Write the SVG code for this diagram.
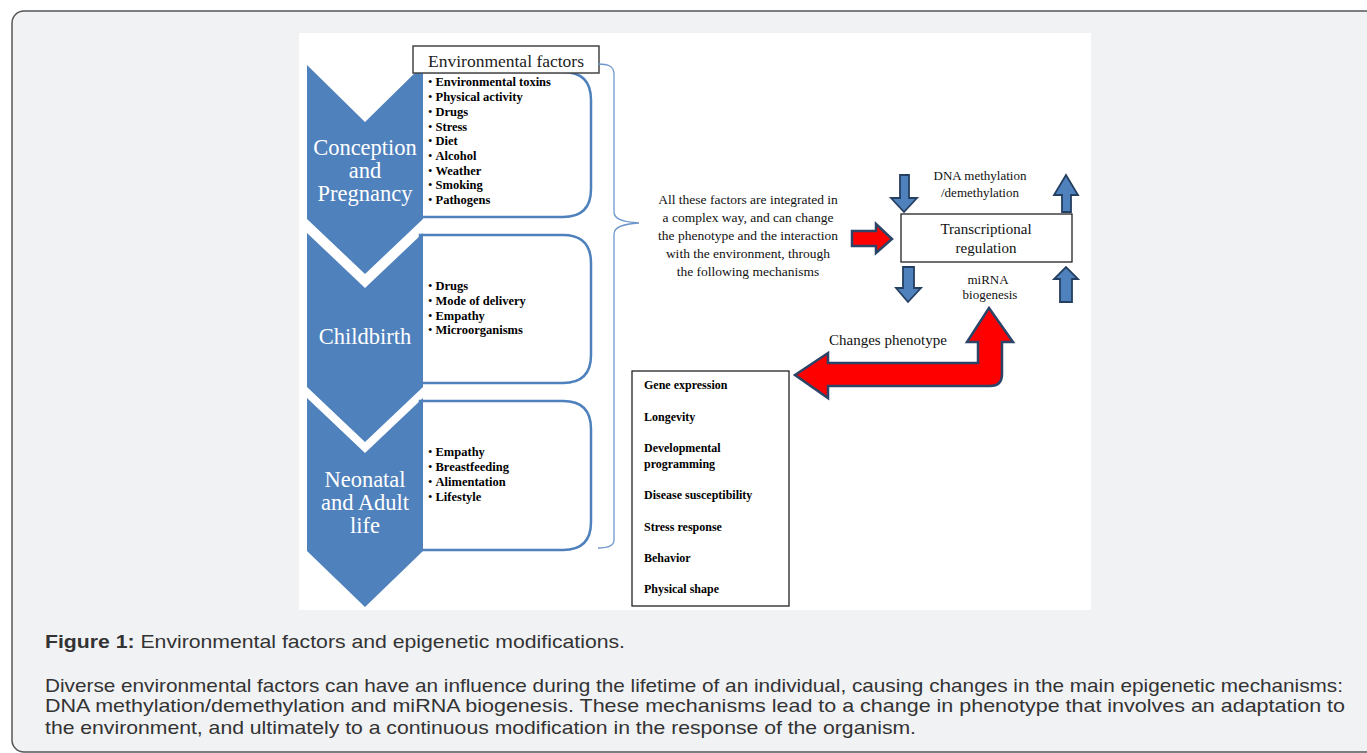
<svg xmlns="http://www.w3.org/2000/svg" width="1367" height="753" viewBox="0 0 1367 753">
<style>
.serif{font-family:"Liberation Serif","Times New Roman",serif;}
.chev{fill:#4f81bd;}
.chevtxt{font-family:"Liberation Serif","Times New Roman",serif;font-size:22.5px;fill:#ffffff;text-anchor:middle;}
.lbox{fill:#ffffff;stroke:#4f81bd;stroke-width:2.5;}
.item{font-family:"Liberation Serif","Times New Roman",serif;font-size:12.5px;font-weight:bold;fill:#000;}
.pitem{font-family:"Liberation Serif","Times New Roman",serif;font-size:12px;font-weight:bold;fill:#000;}
.mid{font-family:"Liberation Serif","Times New Roman",serif;font-size:13.5px;fill:#111;text-anchor:middle;}
.mech{font-family:"Liberation Serif","Times New Roman",serif;font-size:13px;fill:#111;text-anchor:middle;}
.barrow{fill:#4f81bd;stroke:#243f60;stroke-width:1.8;stroke-linejoin:miter;}
.rarrow{fill:#ff0000;stroke:#2b4467;stroke-width:2.5;stroke-linejoin:miter;}
.cap{font-family:"Liberation Sans",Arial,sans-serif;font-size:18.5px;fill:#333;}
</style>
<rect x="12" y="11" width="1370" height="741" rx="12" ry="12" fill="#f1f2f4" stroke="#555" stroke-width="1.5"/>
<rect x="299" y="33" width="792" height="577" fill="#ffffff"/>

<g id="box1">
<path class="lbox" d="M420,72 L563,72 Q591,72 591,100 L591,189 Q591,217 563,217 L420,217 Z"/>
<text class="item" x="428" y="86"><tspan font-weight="normal">• </tspan>Environmental toxins</text>
<text class="item" x="428" y="101"><tspan font-weight="normal">• </tspan>Physical activity</text>
<text class="item" x="428" y="116"><tspan font-weight="normal">• </tspan>Drugs</text>
<text class="item" x="428" y="131"><tspan font-weight="normal">• </tspan>Stress</text>
<text class="item" x="428" y="145"><tspan font-weight="normal">• </tspan>Diet</text>
<text class="item" x="428" y="160"><tspan font-weight="normal">• </tspan>Alcohol</text>
<text class="item" x="428" y="175"><tspan font-weight="normal">• </tspan>Weather</text>
<text class="item" x="428" y="189"><tspan font-weight="normal">• </tspan>Smoking</text>
<text class="item" x="428" y="204"><tspan font-weight="normal">• </tspan>Pathogens</text>
</g>
<g id="box2">
<path class="lbox" d="M420,235 L563,235 Q591,235 591,263 L591,355 Q591,383 563,383 L420,383 Z"/>
<text class="item" x="428" y="290"><tspan font-weight="normal">• </tspan>Drugs</text>
<text class="item" x="428" y="305"><tspan font-weight="normal">• </tspan>Mode of delivery</text>
<text class="item" x="428" y="320"><tspan font-weight="normal">• </tspan>Empathy</text>
<text class="item" x="428" y="334"><tspan font-weight="normal">• </tspan>Microorganisms</text>
</g>
<g id="box3">
<path class="lbox" d="M420,401 L563,401 Q591,401 591,429 L591,522 Q591,550 563,550 L420,550 Z"/>
<text class="item" x="428" y="456"><tspan font-weight="normal">• </tspan>Empathy</text>
<text class="item" x="428" y="471"><tspan font-weight="normal">• </tspan>Breastfeeding</text>
<text class="item" x="428" y="486"><tspan font-weight="normal">• </tspan>Alimentation</text>
<text class="item" x="428" y="501"><tspan font-weight="normal">• </tspan>Lifestyle</text>
</g>

<g id="chevron1">
<path class="chev" d="M307,65 L365,122 L423,65 L423,219 L365,274 L307,219 Z"/>
<text class="chevtxt" x="365" y="155">Conception</text>
<text class="chevtxt" x="365" y="178">and</text>
<text class="chevtxt" x="365" y="201">Pregnancy</text>
</g>
<g id="chevron2">
<path class="chev" d="M307,233 L365,288 L423,233 L423,387 L365,442 L307,387 Z"/>
<text class="chevtxt" x="365" y="344">Childbirth</text>
</g>
<g id="chevron3">
<path class="chev" d="M307,398 L365,453 L423,398 L423,551 L365,607 L307,551 Z"/>
<text class="chevtxt" x="365" y="487">Neonatal</text>
<text class="chevtxt" x="365" y="510">and Adult</text>
<text class="chevtxt" x="365" y="533">life</text>
</g>

<g id="envfactors">
<rect x="413" y="46" width="186" height="27" fill="#ffffff" stroke="#444" stroke-width="1.5"/>
<text class="serif" x="506" y="67" font-size="17.5" text-anchor="middle" fill="#222">Environmental factors</text>
</g>

<g id="integration">
<text class="mid" x="748" y="204">All these factors are integrated in</text>
<text class="mid" x="748" y="222">a complex way, and can change</text>
<text class="mid" x="748" y="240">the phenotype and the interaction</text>
<text class="mid" x="748" y="258">with the environment, through</text>
<text class="mid" x="748" y="276">the following mechanisms</text>
</g>

<g id="transcription">
<rect x="901" y="214" width="171" height="48" fill="#ffffff" stroke="#222" stroke-width="1.3"/>
<text class="serif" x="986" y="234" font-size="15" text-anchor="middle" fill="#111">Transcriptional</text>
<text class="serif" x="986" y="253" font-size="15" text-anchor="middle" fill="#111">regulation</text>
</g>
<g id="dnamethyl">
<text class="mech" x="980" y="180">DNA methylation</text>
<text class="mech" x="980" y="197">/demethylation</text>
</g>
<g id="mirna">
<text class="mech" x="988" y="284">miRNA</text>
<text class="mech" x="990" y="299">biogenesis</text>
</g>

<g id="phenotype">
<rect x="632" y="371" width="157" height="235" fill="#ffffff" stroke="#222" stroke-width="1.3"/>
<text class="pitem" x="644" y="389">Gene expression</text>
<text class="pitem" x="644" y="421">Longevity</text>
<text class="pitem" x="644" y="452">Developmental</text>
<text class="pitem" x="644" y="468">programming</text>
<text class="pitem" x="644" y="499">Disease susceptibility</text>
<text class="pitem" x="644" y="531">Stress response</text>
<text class="pitem" x="644" y="562">Behavior</text>
<text class="pitem" x="644" y="593">Physical shape</text>
</g>

<g id="connectors">
<path d="M598,64 C608,64 614,66 614,74 L614,212 C614,219 622,222 639,223 C622,224 614,227 614,234 L614,540 C614,546 608,548 598,548" fill="none" stroke="#6f97cc" stroke-width="1.3"/>
<path class="rarrow" d="M852,231 L876,231 L876,224 L892,239 L876,253 L876,246 L852,246 Z"/>
<path class="barrow" d="M900,175 L909,175 L909,198 L917,198 L904,212 L891,198 L900,198 Z"/>
<path class="barrow" d="M1062,212 L1071,212 L1071,195 L1078,195 L1066,175 L1054,195 L1062,195 Z"/>
<path class="barrow" d="M903,267 L914,267 L914,288 L921,288 L908,302 L896,288 L903,288 Z"/>
<path class="barrow" d="M1060,302 L1072,302 L1072,279 L1078,279 L1066,267 L1054,279 L1060,279 Z"/>
<path class="rarrow" d="M795,375 L828,353 L828,363 L978,363 L978,342 L967,342 L989,308 L1013,342 L1002,342 L1002,374 Q1002,386 990,386 L828,386 L828,398 Z"/>
<text class="serif" x="888" y="345" font-size="15" text-anchor="middle" fill="#111">Changes phenotype</text>
</g>

<g id="caption">
<text class="cap" x="45" y="648" textLength="580" lengthAdjust="spacingAndGlyphs"><tspan font-weight="bold">Figure 1:</tspan> Environmental factors and epigenetic modifications.</text>
<text class="cap" x="45" y="692" textLength="1298" lengthAdjust="spacingAndGlyphs">Diverse environmental factors can have an influence during the lifetime of an individual, causing changes in the main epigenetic mechanisms:</text>
<text class="cap" x="45" y="712" textLength="1300" lengthAdjust="spacingAndGlyphs">DNA methylation/demethylation and miRNA biogenesis. These mechanisms lead to a change in phenotype that involves an adaptation to</text>
<text class="cap" x="45" y="734" textLength="871" lengthAdjust="spacingAndGlyphs">the environment, and ultimately to a continuous modification in the response of the organism.</text>
</g>
</svg>
